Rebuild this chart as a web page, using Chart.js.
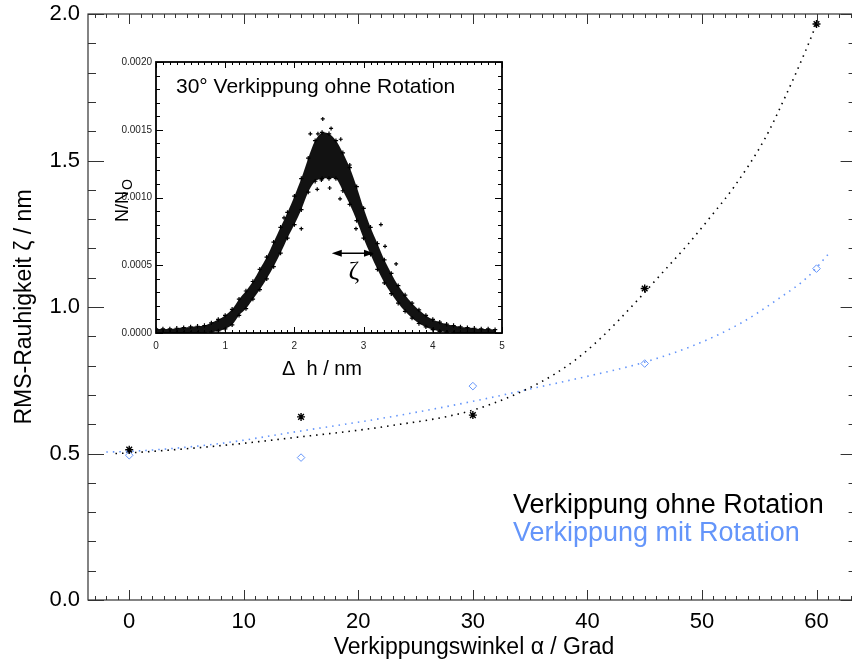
<!DOCTYPE html>
<html>
<head>
<meta charset="utf-8">
<script src="https://cdn.jsdelivr.net/npm/chart.js@4.4.1/dist/chart.umd.min.js"></script>
<style>
  html, body { margin: 0; padding: 0; background: #fff; overflow: hidden; }
  #wrap { position: relative; width: 852px; height: 664px; overflow: hidden; }
  #main { position: absolute; left: 0; top: 0; }
  #inset { position: absolute; left: 100px; top: 50px; }
</style>
</head>
<body>
<div id="wrap">
  <canvas id="main" width="862" height="664"></canvas>
  <canvas id="inset" width="410" height="335"></canvas>
</div>
<script>
// --- Messwerte (Hauptgrafik) ---
const winkel = [0, 15, 30, 45, 60];
const ohneRotation = [0.513, 0.625, 0.631, 1.063, 1.966];
const mitRotation = [0.494, 0.486, 0.730, 0.807, 1.131];

// punktierte Fit-Kurven
const fitOhneWinkel = [-1.2, 0, 7.5, 15, 22.5, 30, 35.5, 38.8, 41.2, 44.3, 46.5, 48.8, 50.9, 52.8, 55.5, 57.3, 59.0, 60];
const fitOhneWerte = [0.500, 0.502, 0.525, 0.557, 0.593, 0.648, 0.735, 0.815, 0.895, 1.020, 1.115, 1.215, 1.315, 1.410, 1.575, 1.720, 1.870, 1.966];
const fitMitWinkel = [-2, 0, 7.5, 15, 22.5, 30, 35.9, 40.4, 44.3, 49.1, 53.3, 56.6, 59.3, 61.0];
const fitMitWerte = [0.505, 0.507, 0.532, 0.577, 0.623, 0.678, 0.728, 0.767, 0.804, 0.866, 0.943, 1.026, 1.105, 1.179];

const xTicks = [0, 10, 20, 30, 40, 50, 60];
const yTicks = [0.0, 0.5, 1.0, 1.5, 2.0];

// --- Inset: Hoehenverteilung (Band der Punktwolke, Einheit 1e-4) ---
const dh = [0.0, 0.1, 0.2, 0.3, 0.4, 0.5, 0.6, 0.7, 0.8, 0.9,
            1.0, 1.1, 1.2, 1.3, 1.4, 1.5, 1.6, 1.7, 1.8, 1.9,
            2.0, 2.1, 2.2, 2.3, 2.4, 2.5, 2.6, 2.7, 2.8, 2.9,
            3.0, 3.1, 3.2, 3.3, 3.4, 3.5, 3.6, 3.7, 3.8, 3.9,
            4.0, 4.1, 4.2, 4.3, 4.4, 4.5, 4.6, 4.7, 4.8, 4.9];
const bandUnten = [0, 0, 0, 0, 0, 0, 0, 0.02, 0.06, 0.15,
                   0.3, 0.6, 1.3, 1.8, 2.5, 3.2, 4.0, 4.9, 5.9, 7.0,
                   8.0, 9.1, 10.4, 11.2, 11.4, 11.4, 11.4, 10.5, 9.5, 8.3,
                   7.0, 5.8, 4.7, 3.7, 2.9, 2.2, 1.6, 1.1, 0.7, 0.45,
                   0.25, 0.12, 0.05, 0.02, 0, 0, 0, 0, 0, 0];
const bandOben = [0.3, 0.3, 0.3, 0.35, 0.4, 0.45, 0.5, 0.55, 0.75, 1.0,
                  1.3, 1.75, 2.5, 3.1, 3.8, 4.7, 5.6, 6.7, 7.8, 8.9,
                  10.1, 11.4, 12.9, 14.2, 14.8, 14.7, 14.2, 13.3, 12.2, 10.8,
                  9.2, 7.8, 6.6, 5.4, 4.4, 3.5, 2.8, 2.2, 1.7, 1.3,
                  1.0, 0.8, 0.65, 0.55, 0.45, 0.4, 0.35, 0.3, 0.3, 0.25];
// einzelne Ausreisser
const ausreisserX = [2.41, 2.53, 2.23, 2.34, 2.67, 2.80, 2.51, 2.33, 2.39, 2.66, 1.85, 2.10, 2.89, 3.25, 3.31, 3.47];
const ausreisserY = [15.8, 15.1, 14.7, 14.7, 14.3, 12.4, 10.7, 10.6, 11.3, 9.9, 8.5, 7.7, 7.7, 8.0, 6.4, 5.1];

const insetXTicks = [0, 1, 2, 3, 4, 5];
const insetYTicks = [0, 0.0005, 0.0010, 0.0015, 0.0020];

// Texte
const yTitel = 'RMS-Rauhigkeit \u03B6 / nm';
const xTitel = 'Verkippungswinkel \u03B1 / Grad';
const legende = ['Verkippung ohne Rotation', 'Verkippung mit Rotation'];
const insetTitel = '30\u00B0 Verkippung ohne Rotation';
const insetXTitel = '\u0394  h / nm';
const pfeil = { von: 2.54, bis: 3.15, n: 0.000588 };

const SANS = "'Liberation Sans', Arial, Helvetica, sans-serif";
const BLAU = 'rgb(100, 149, 250)';

const pts = (xs, ys, f = 1) => xs.map((x, i) => ({ x: x, y: ys[i] * f }));
// keine automatische Randvergroesserung durch Beschriftungen
const ohneRand = s => { s.paddingTop = 0; s.paddingBottom = 0; s.paddingLeft = 0; s.paddingRight = 0; };

// Rahmen mit Teilstrichen nach innen, auf allen vier Seiten
const rahmenPlugin = {
    id: 'rahmen',
    afterDraw(chart, args, o) {
        const { ctx, chartArea: a, scales: { x, y } } = chart;
        ctx.save();
        ctx.strokeStyle = o.color;
        ctx.lineWidth = o.tickWidth;
        ctx.beginPath();
        const xTick = (v, len) => {
            const p = Math.round(x.getPixelForValue(v)) + 0.5;
            ctx.moveTo(p, a.bottom); ctx.lineTo(p, a.bottom - len);
            ctx.moveTo(p, a.top); ctx.lineTo(p, a.top + len);
        };
        const yTick = (v, len) => {
            const p = Math.round(y.getPixelForValue(v)) + 0.5;
            ctx.moveTo(a.left, p); ctx.lineTo(a.left + len, p);
            ctx.moveTo(a.right, p); ctx.lineTo(a.right - len, p);
        };
        for (let i = Math.ceil(x.min / o.xMinor - 1e-6); i * o.xMinor <= x.max + 1e-9; i++) xTick(i * o.xMinor, o.xMinorLen);
        for (let i = Math.ceil(y.min / o.yMinor - 1e-6); i * o.yMinor <= y.max + 1e-9; i++) yTick(i * o.yMinor, o.yMinorLen);
        x.ticks.forEach(t => xTick(t.value, o.xMajorLen));
        y.ticks.forEach(t => yTick(t.value, o.yMajorLen));
        ctx.stroke();
        ctx.lineWidth = o.lineWidth;
        ctx.strokeRect(a.left, a.top, a.right - a.left, a.bottom - a.top);
        ctx.restore();
    }
};

// Achsentitel und Legende der Hauptgrafik
const textPlugin = {
    id: 'texte',
    afterDraw(chart) {
        const { ctx, chartArea: a } = chart;
        ctx.save();
        ctx.fillStyle = '#000';
        ctx.font = '23px ' + SANS;
        ctx.textAlign = 'center';
        ctx.textBaseline = 'alphabetic';
        ctx.fillText(xTitel, 474, 654);
        ctx.save();
        ctx.translate(31, (a.top + a.bottom) / 2);
        ctx.rotate(-Math.PI / 2);
        ctx.fillText(yTitel, 0, 0);
        ctx.restore();
        ctx.textAlign = 'left';
        ctx.font = '27px ' + SANS;
        ctx.fillText(legende[0], 513, 513);
        ctx.fillStyle = BLAU;
        ctx.fillText(legende[1], 513, 541);
        ctx.restore();
    }
};

// --- HAUPTGRAFIK ---
new Chart(document.getElementById('main'), {
    type: 'line',
    data: {
        datasets: [
            { data: pts(fitOhneWinkel, fitOhneWerte), borderColor: '#000', borderWidth: 1.6,
              borderDash: [1.5, 5], pointRadius: 0, fill: false, cubicInterpolationMode: 'monotone' },
            { data: pts(fitMitWinkel, fitMitWerte), borderColor: BLAU, borderWidth: 1.6,
              borderDash: [1.5, 5], pointRadius: 0, fill: false, cubicInterpolationMode: 'monotone' },
            { data: pts(winkel, ohneRotation), showLine: false, pointStyle: 'star', pointRadius: 4,
              pointBorderColor: '#000', pointBorderWidth: 1.4 },
            { data: pts(winkel, mitRotation), showLine: false, pointStyle: 'rectRot', pointRadius: 3.8,
              pointBorderColor: BLAU, pointBackgroundColor: 'rgba(0,0,0,0)', pointBorderWidth: 1 }
        ]
    },
    options: {
        responsive: false,
        devicePixelRatio: 1,
        animation: false,
        layout: { padding: { left: 0, right: 4, top: 14, bottom: 0 } },
        plugins: {
            legend: { display: false },
            tooltip: { enabled: false },
            rahmen: { color: '#333', lineWidth: 1.2, tickWidth: 1,
                      xMinor: 1, yMinor: 0.1, xMajorLen: 10, xMinorLen: 4, yMajorLen: 16, yMinorLen: 8 }
        },
        scales: {
            x: {
                type: 'linear', min: -3.6, max: 63.5,
                grid: { display: false, drawTicks: false }, border: { display: false },
                afterBuildTicks: s => { s.ticks = xTicks.map(v => ({ value: v })); },
                afterFit: s => { s.height = 64; ohneRand(s); },
                ticks: { autoSkip: false, maxRotation: 0, padding: 9, color: '#000',
                         font: { family: SANS, size: 22 }, callback: v => String(v) }
            },
            y: {
                type: 'linear', min: 0, max: 2,
                grid: { display: false, drawTicks: false }, border: { display: false },
                afterBuildTicks: s => { s.ticks = yTicks.map(v => ({ value: v })); },
                afterFit: s => { s.width = 88; ohneRand(s); },
                ticks: { padding: 8, color: '#000', font: { family: SANS, size: 22 },
                         callback: v => v.toFixed(1) }
            }
        }
    },
    plugins: [rahmenPlugin, textPlugin]
});

// Beschriftung des Insets: Titel, Achsen, Pfeil mit zeta
const insetTextPlugin = {
    id: 'insetTexte',
    afterDraw(chart) {
        const { ctx, scales: { x, y } } = chart;
        ctx.save();
        ctx.fillStyle = '#000';
        ctx.textBaseline = 'alphabetic';
        ctx.textAlign = 'left';
        ctx.font = '21px ' + SANS;
        ctx.fillText(insetTitel, 76, 43);
        ctx.textAlign = 'center';
        ctx.font = '20px ' + SANS;
        ctx.fillText(insetXTitel, 222, 325);
        // N/N_O
        ctx.save();
        ctx.translate(28, 172);
        ctx.rotate(-Math.PI / 2);
        ctx.textAlign = 'left';
        ctx.font = '18px ' + SANS;
        ctx.fillText('N/N', 0, 0);
        const w = ctx.measureText('N/N').width;
        ctx.font = '14px ' + SANS;
        ctx.fillText('O', w + 1, 4);
        ctx.restore();
        // Doppelpfeil
        const x1 = x.getPixelForValue(pfeil.von), x2 = x.getPixelForValue(pfeil.bis);
        const py = y.getPixelForValue(pfeil.n);
        ctx.strokeStyle = '#000';
        ctx.lineWidth = 1.5;
        ctx.beginPath();
        ctx.moveTo(x1 + 4, py); ctx.lineTo(x2 - 4, py);
        ctx.stroke();
        ctx.beginPath();
        ctx.moveTo(x1, py); ctx.lineTo(x1 + 10, py - 3.5); ctx.lineTo(x1 + 10, py + 3.5); ctx.closePath();
        ctx.moveTo(x2, py); ctx.lineTo(x2 - 10, py - 3.5); ctx.lineTo(x2 - 10, py + 3.5); ctx.closePath();
        ctx.fill();
        ctx.font = '26px "Liberation Serif", "DejaVu Serif", serif';
        ctx.fillText('\u03B6', (x1 + x2) / 2 + 1, py + 26);
        ctx.restore();
    }
};

// --- INSET ---
new Chart(document.getElementById('inset'), {
    type: 'line',
    data: {
        datasets: [
            { data: pts(dh, bandOben, 1e-4), borderColor: 'rgba(0,0,0,0)', borderWidth: 0, pointRadius: 0,
              fill: '+1', backgroundColor: 'rgba(0,0,0,0.93)', tension: 0.3 },
            { data: pts(dh, bandUnten, 1e-4), borderColor: 'rgba(0,0,0,0)', borderWidth: 0, pointRadius: 0,
              fill: false, tension: 0.3 },
            { data: pts(dh, bandOben, 1e-4), showLine: false, pointStyle: 'cross', pointRadius: 2.2,
              pointBorderColor: '#000', pointBorderWidth: 1.2 },
            { data: pts(dh, bandUnten, 1e-4), showLine: false, pointStyle: 'cross', pointRadius: 2.2,
              pointBorderColor: '#000', pointBorderWidth: 1.2 },
            { data: pts(ausreisserX, ausreisserY, 1e-4), showLine: false, pointStyle: 'cross', pointRadius: 2,
              pointBorderColor: '#000', pointBorderWidth: 1.2 }
        ]
    },
    options: {
        responsive: false,
        devicePixelRatio: 1,
        animation: false,
        layout: { padding: { left: 0, right: 8, top: 12, bottom: 0 } },
        plugins: {
            legend: { display: false },
            tooltip: { enabled: false },
            rahmen: { color: '#000', lineWidth: 1.8, tickWidth: 1,
                      xMinor: 0.1, yMinor: 0.0001, xMajorLen: 6, xMinorLen: 3, yMajorLen: 7, yMinorLen: 4 }
        },
        scales: {
            x: {
                type: 'linear', min: 0, max: 5,
                grid: { display: false, drawTicks: false }, border: { display: false },
                afterBuildTicks: s => { s.ticks = insetXTicks.map(v => ({ value: v })); },
                afterFit: s => { s.height = 52; ohneRand(s); },
                ticks: { autoSkip: false, maxRotation: 0, padding: 7, color: '#222',
                         font: { family: SANS, size: 10 }, callback: v => String(v) }
            },
            y: {
                type: 'linear', min: 0, max: 0.002,
                grid: { display: false, drawTicks: false }, border: { display: false },
                afterBuildTicks: s => { s.ticks = insetYTicks.map(v => ({ value: v })); },
                afterFit: s => { s.width = 56; ohneRand(s); },
                ticks: { padding: 4, color: '#222', font: { family: SANS, size: 10 },
                         callback: v => v.toFixed(4) }
            }
        }
    },
    plugins: [rahmenPlugin, insetTextPlugin]
});
</script>
</body>
</html>
